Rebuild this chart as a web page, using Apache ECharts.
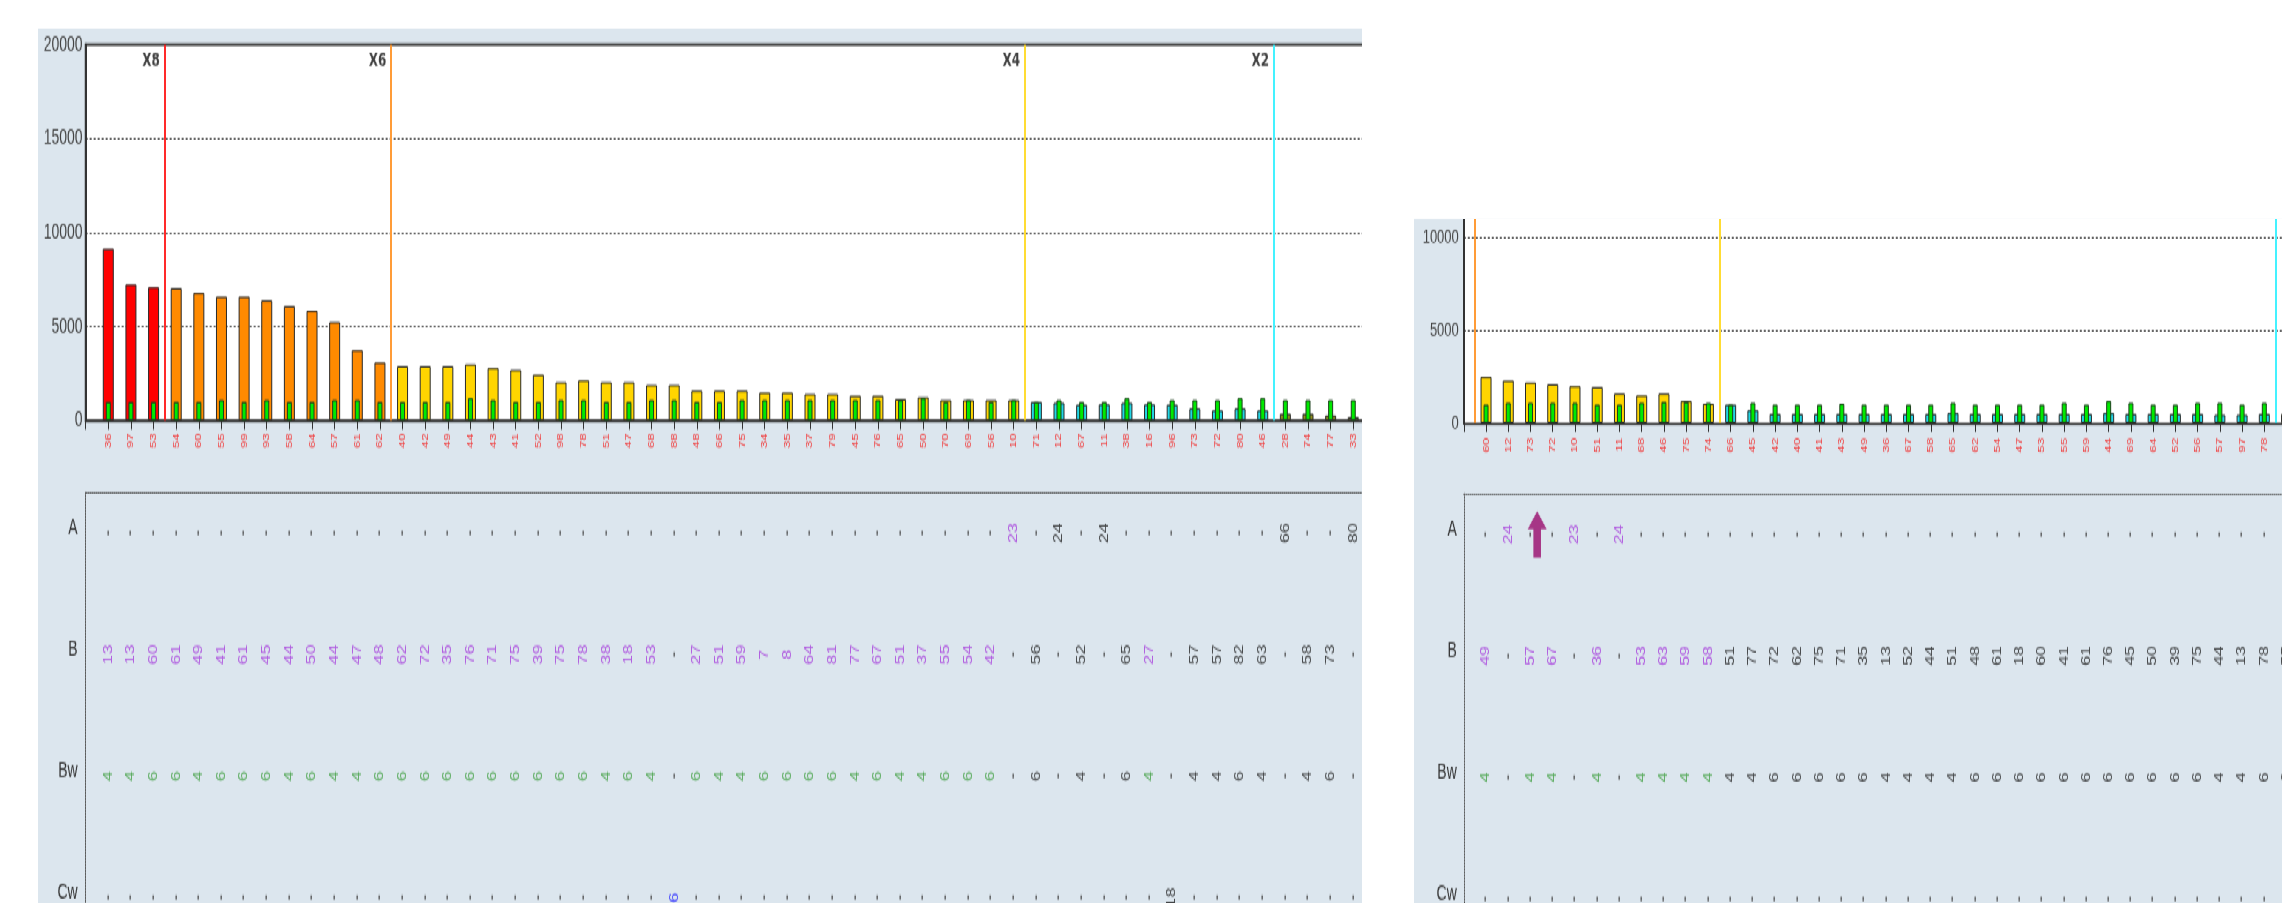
<!DOCTYPE html>
<html>
<head>
<meta charset="utf-8">
<title>Ranked totals</title>
<script src="https://cdn.jsdelivr.net/npm/echarts@6.0.0/dist/echarts.min.js"></script>
<style>
  html, body { margin: 0; padding: 0; background: #ffffff; overflow: hidden; }
  /* the application renders at a 1.5 vertical pixel aspect */
  #stage { position: absolute; left: 0; top: 0; width: 2282px; height: 602px; transform: scaleY(1.5); transform-origin: 0 0; }
  .panel { position: absolute; background: #dce6ee; }
  #left { left: 38px; top: 18.67px; width: 1324px; height: 583.33px; }
  #right { left: 1414px; top: 146.33px; width: 868px; height: 455.67px; }
</style>
</head>
<body>
<div id="stage"><div id="left" class="panel"></div><div id="right" class="panel"></div></div>
<script>
// ---------- left view ----------
const leftLabels = ['36','97','53','54','60','55','99','93','58','64',
  '57','61','62','40','42','49','44','43','41','52',
  '98','78','51','47','68','88','48','66','75','34',
  '35','37','79','45','76','65','50','70','69','56',
  '10','71','12','67','11','38','16','96','73','72',
  '80','46','28','74','77','33'];
const leftTotals = [9150,7250,7100,7050,6800,6600,6600,6400,6100,5850,
  5250,3750,3100,2900,2900,2900,3000,2800,2700,2450,
  2050,2150,2050,2050,1900,1900,1600,1600,1600,1500,
  1500,1420,1420,1330,1330,1150,1250,1100,1100,1100,
  1100,1000,950,850,870,950,870,850,650,550,
  650,550,370,370,280,190];
const leftGreen = [1000,1000,1000,1000,1000,1100,1000,1100,1000,1000,
  1100,1100,1000,1000,1000,1000,1200,1100,1000,1000,
  1100,1100,1000,1000,1100,1100,1000,1000,1100,1100,
  1100,1100,1100,1100,1100,1100,1200,1000,1100,1000,
  1100,1000,1100,1000,1000,1200,1000,1100,1100,1100,
  1200,1200,1100,1100,1100,1100];
const leftTierNames = ['X8', 'X6', 'X4', 'X2', ''];
const leftTierCounts = [3, 10, 28, 11, 4];
const leftRowA = ['-','-','-','-','-','-','-','-','-','-',
  '-','-','-','-','-','-','-','-','-','-',
  '-','-','-','-','-','-','-','-','-','-',
  '-','-','-','-','-','-','-','-','-','-',
  '23','-','24','-','24','-','-','-','-','-',
  '-','-','66','-','-','80'];
const leftRowB = ['13','13','60','61','49','41','61','45','44','50',
  '44','47','48','62','72','35','76','71','75','39',
  '75','78','38','18','53','-','27','51','59','7',
  '8','64','81','77','67','51','37','55','54','42',
  '-','56','-','52','-','65','27','-','57','57',
  '82','63','-','58','73','-'];
const leftRowBw = ['4','4','6','6','4','6','6','6','4','6',
  '4','4','6','6','6','6','6','6','6','6',
  '6','6','4','6','4','-','6','4','4','6',
  '6','6','6','4','6','4','4','6','6','6',
  '-','6','-','4','-','6','4','-','4','4',
  '6','4','-','4','6','-'];
const leftRowCw = ['-','-','-','-','-','-','-','-','-','-',
  '-','-','-','-','-','-','-','-','-','-',
  '-','-','-','-','-','6','-','-','-','-',
  '-','-','-','-','-','-','-','-','-','-',
  '-','-','-','-','-','-','-','18','-','-',
  '-','-','-','-','-','-'];
const leftFlagged = [0,1,2,3,4,5,6,7,8,9,10,11,12,13,14,15,16,17,18,19,
  20,21,22,23,24,25,26,27,28,29,30,31,32,33,34,35,36,37,38,39,40,46];

// ---------- right view ----------
const rightLabels = ['60','12','73','72','10','51','11','68','46','75',
  '74','66','45','42','40','41','43','49','36','67',
  '58','65','62','54','47','53','55','59','44','69',
  '64','52','56','57','97','78',''];
const rightTotals = [2500,2300,2200,2100,2000,1950,1600,1500,1600,1200,
  1050,1000,700,500,500,500,500,500,500,500,
  500,550,500,500,500,500,500,500,550,500,
  500,500,500,450,450,500,500];
const rightGreen = [1000,1100,1100,1100,1100,1000,1000,1100,1150,1150,
  1100,1000,1100,1000,1000,1000,1050,1000,1000,1000,
  1000,1100,1000,1000,1000,1000,1100,1000,1200,1100,
  1000,1000,1100,1100,1000,1100,1000];
const rightTierNames = ['X6', 'X4', 'X2', ''];
const rightTierCounts = [0, 11, 25, 1];
const rightRowA = ['-','24','-','-','23','-','24','-','-','-',
  '-','-','-','-','-','-','-','-','-','-',
  '-','-','-','-','-','-','-','-','-','-',
  '-','-','-','-','-','-','-'];
const rightRowB = ['49','-','57','67','-','36','-','53','63','59',
  '58','51','77','72','62','75','71','35','13','52',
  '44','51','48','61','18','60','41','61','76','45',
  '50','39','75','44','13','78','55'];
const rightRowBw = ['4','-','4','4','-','4','-','4','4','4',
  '4','4','4','6','6','6','6','6','4','4',
  '4','4','6','6','6','6','6','6','6','6',
  '6','6','6','4','4','6','6'];
const rightRowCw = ['-','-','-','-','-','-','-','-','-','-',
  '-','-','-','-','-','-','-','-','-','-',
  '-','-','-','-','-','-','-','-','-','-',
  '-','-','-','-','-','-','-'];
const rightFlagged = [0,1,2,3,4,5,6,7,8,9,10];
const rightPointerColumn = 2.3;

// ---------- shared styling ----------
const ROW_NAMES = ['A', 'B', 'Bw', 'Cw'];
// table rows sit on a fine vertical scale; each row name is drawn one step above its values
const ROW_LEVEL = [8, 32, 56, 80];
const ROW_SCALE_MAX = 88;
const TIER_BAR = { X8: '#ff0000', X6: '#ff8a00', X4: '#ffd500', X2: '#22d6e6', '': '#8e8e1c' };
const TIER_LINE = { X8: '#ff2a2a', X6: '#ff9c38', X4: '#ffdc34', X2: '#44f2ff', '': '#8e8e1c' };
const ROW_FLAG_COLOR = { A: '#a63cdc', B: '#a63cdc', Bw: '#3a9c3a', Cw: '#2a2aff' };
const FONT = "'Liberation Sans', Arial, sans-serif";

function buildOption(p) {
  const cats = [''].concat(p.labels, ['']);
  const lastIndex = cats.length - 1;

  const tierOf = [];
  p.tierNames.forEach((t, k) => { for (let j = 0; j < p.tierCounts[k]; j++) tierOf.push(t); });

  const wide = ['-'].concat(p.totals.map((v, i) => ({ value: v, itemStyle: { color: TIER_BAR[tierOf[i]] } })), ['-']);
  const green = ['-'].concat(p.green, ['-']);

  // tier boundaries sit half a slot after the last bar of each tier
  const bounds = [];
  let acc = 0;
  p.tierNames.forEach((t, k) => {
    acc += p.tierCounts[k];
    if (k < p.tierNames.length - 1) bounds.push({ name: t, pos: acc + 0.5 });
  });

  const flagged = new Set(p.flagged);
  const rows = [p.rowA, p.rowB, p.rowBw, p.rowCw];
  const tableSeries = rows.map((vals, r) => ({
    type: 'scatter', xAxisIndex: 3, yAxisIndex: 1, symbolSize: 0, silent: true, z: 4,
    data: vals.map((txt, i) => ({
      value: [i + 1, ROW_LEVEL[r]], name: txt,
      label: txt === '-'
        ? { color: '#4a4a4a', fontWeight: 'bold' }
        : { color: flagged.has(i) ? ROW_FLAG_COLOR[ROW_NAMES[r]] : '#1e1e1e' }
    })),
    label: { show: true, position: 'inside', formatter: '{b}', rotate: 90, fontSize: p.tableFont, fontFamily: FONT }
  }));

  const series = [
    {
      type: 'bar', name: 'total', xAxisIndex: 0, yAxisIndex: 0, barWidth: 11, z: 2,
      itemStyle: { borderColor: '#2a2a2a', borderWidth: 1 },
      data: wide
    },
    {
      type: 'bar', name: 'base', xAxisIndex: 1, yAxisIndex: 0, barWidth: 5, z: 3,
      itemStyle: { color: '#00ea00', borderColor: '#1c3f1c', borderWidth: 1 },
      data: green
    },
    {
      type: 'scatter', name: 'tiers', xAxisIndex: 2, yAxisIndex: 0, symbolSize: 0, silent: true, z: 6,
      data: bounds.map(b => ({ value: [b.pos, p.yMax], name: b.name })),
      label: {
        show: p.showTierNames, position: 'inside', formatter: '{b}', align: 'right', verticalAlign: 'middle',
        offset: [-5, 11.5], color: '#111', fontFamily: "'DejaVu Sans', sans-serif", fontWeight: 'bold', fontSize: 12
      },
      markLine: {
        silent: true, symbol: ['none', 'none'], animation: false,
        label: { show: false },
        lineStyle: { type: 'solid', width: 2 },
        data: bounds.map(b => ({ xAxis: b.pos, lineStyle: { color: TIER_LINE[b.name], type: 'solid', width: 2 } }))
      }
    }
  ].concat(tableSeries);

  if (p.pointer != null) {
    series.push({
      type: 'scatter', name: 'pointer', xAxisIndex: 4, yAxisIndex: 1, silent: true, z: 8,
      symbol: 'path://M10,0 L20,12 L14,12 L14,31 L6,31 L6,12 L0,12 Z',
      symbolSize: [19, 31],
      itemStyle: { color: '#990a6c' },
      data: [[p.pointer + 1, ROW_LEVEL[0]]]
    });
  }

  const rowAt = {};
  ROW_LEVEL.forEach((lv, r) => { rowAt[lv - 1] = ROW_NAMES[r]; });

  return {
    animation: false,
    textStyle: { fontFamily: FONT },
    grid: [
      {
        left: p.left, right: p.right, top: p.top, height: p.plotH,
        containLabel: false, outerBoundsMode: 'none',
        show: true, backgroundColor: '#ffffff',
        borderColor: p.frame ? '#333333' : 'transparent', borderWidth: p.frame ? 1.8 : 0
      },
      { left: p.left, right: p.right, top: p.tableTop, height: 297, containLabel: false, outerBoundsMode: 'none' }
    ],
    xAxis: [
      {
        gridIndex: 0, type: 'category', data: cats, boundaryGap: false,
        axisLine: { onZero: false, lineStyle: { color: '#333333', width: 1.4 } },
        axisTick: { interval: 0, length: 6, lineStyle: { color: '#333333', width: 1 } },
        axisLabel: { interval: 0, rotate: 90, color: '#f03c3c', fontSize: 9, margin: p.labelMargin },
        splitLine: { show: false }
      },
      { gridIndex: 0, type: 'category', data: cats, boundaryGap: false, show: false },
      { gridIndex: 0, type: 'value', min: 0, max: lastIndex, show: false, splitLine: { show: false } },
      {
        gridIndex: 1, type: 'category', data: cats, boundaryGap: false, position: 'top',
        axisLine: { onZero: false, lineStyle: { color: '#555555', type: [1, 1], width: 1 } },
        axisTick: { show: false }, axisLabel: { show: false }, splitLine: { show: false }
      },
      { gridIndex: 1, type: 'value', min: 0, max: lastIndex, show: false, splitLine: { show: false } }
    ],
    yAxis: [
      {
        gridIndex: 0, type: 'value', min: 0, max: p.yMax, interval: 5000,
        axisLine: { show: true, onZero: false, lineStyle: { color: '#333333', width: 2 } },
        axisTick: { show: false },
        axisLabel: { color: '#444444', fontSize: p.yFont, margin: p.yMargin, showMaxLabel: p.showMax, formatter: v => String(v) },
        splitLine: { show: true, showMinLine: false, showMaxLine: p.showMax, lineStyle: { color: '#333333', type: [2, 2], width: 1 } }
      },
      {
        gridIndex: 1, type: 'value', inverse: true, min: 0, max: ROW_SCALE_MAX, interval: 1,
        axisLine: { show: true, onZero: false, lineStyle: { color: '#555555', type: [1, 1], width: 1 } },
        axisTick: { show: false }, splitLine: { show: false },
        axisLabel: {
          formatter: v => rowAt[v] || '', color: '#333333', fontSize: 14, margin: p.rowMargin
        }
      }
    ],
    series: series
  };
}

const leftChart = echarts.init(document.getElementById('left'));
leftChart.setOption(buildOption({
  labels: leftLabels, totals: leftTotals, green: leftGreen,
  tierNames: leftTierNames, tierCounts: leftTierCounts, showTierNames: true,
  rowA: leftRowA, rowB: leftRowB, rowBw: leftRowBw, rowCw: leftRowCw, flagged: leftFlagged,
  pointer: null,
  yMax: 20000, showMax: true, frame: true, yFont: 14, yMargin: 3,
  left: 47.66, right: -13.9, top: 10.67, plotH: 250.67, tableTop: 309.33,
  labelMargin: 8.5, rowMargin: 8, tableFont: 12
}));

const rightChart = echarts.init(document.getElementById('right'));
rightChart.setOption(buildOption({
  labels: rightLabels, totals: rightTotals, green: rightGreen,
  tierNames: rightTierNames, tierCounts: rightTierCounts, showTierNames: false,
  rowA: rightRowA, rowB: rightRowB, rowBw: rightRowBw, rowCw: rightRowCw, flagged: rightFlagged,
  pointer: rightPointerColumn,
  yMax: 11000, showMax: false, frame: false, yFont: 13, yMargin: 5,
  left: 49.8, right: -26.8, top: 0, plotH: 136, tableTop: 183.17,
  labelMargin: 9.7, rowMargin: 7, tableFont: 12
}));
</script>
</body>
</html>
